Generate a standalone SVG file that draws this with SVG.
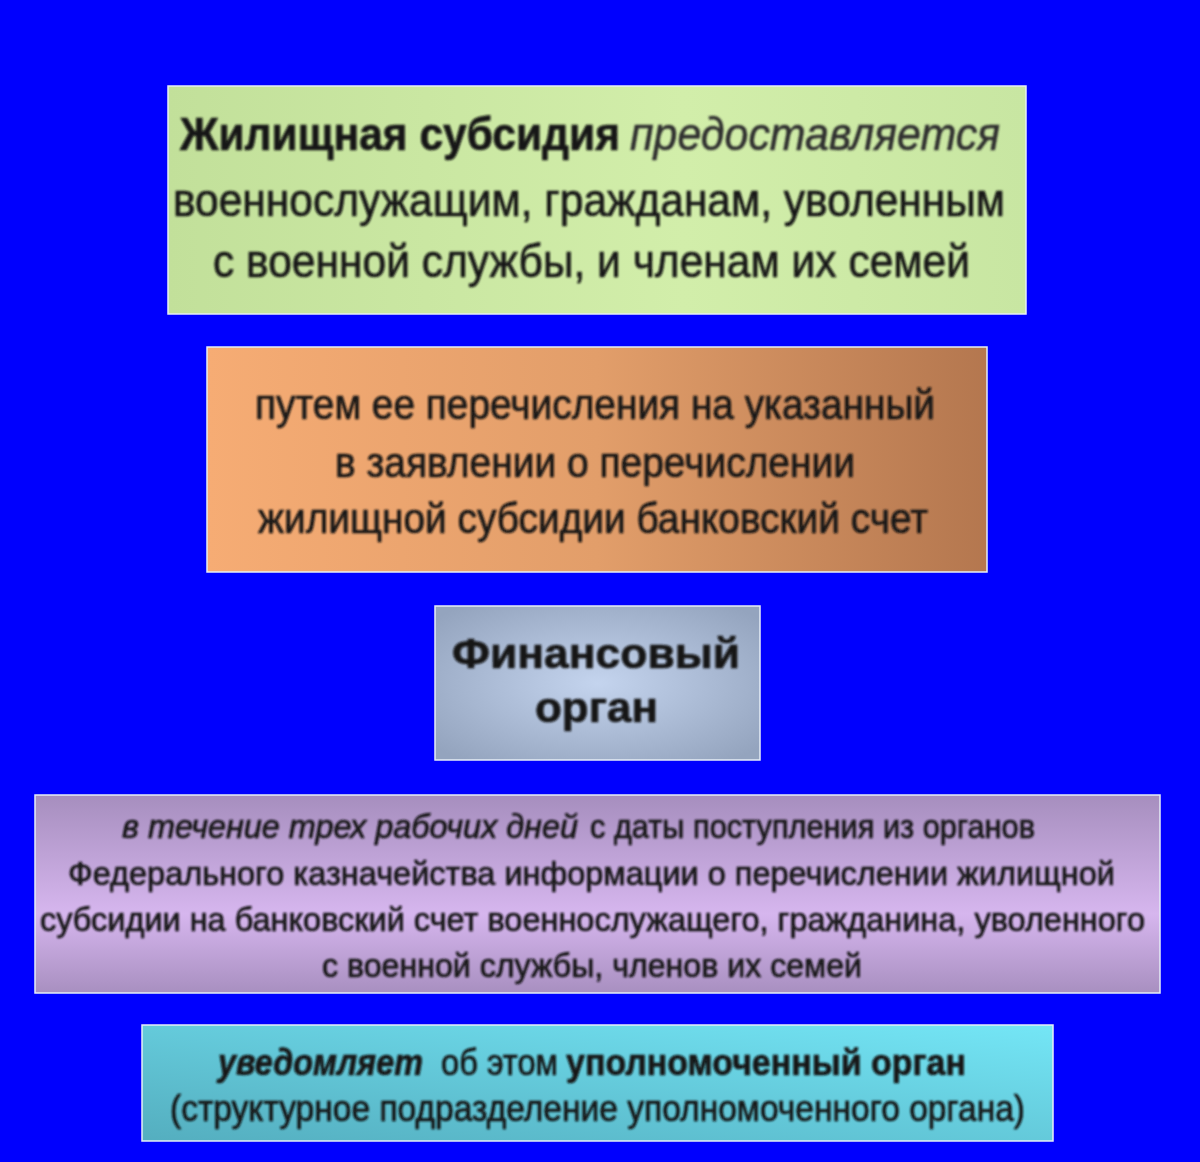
<svg xmlns="http://www.w3.org/2000/svg" width="1200" height="1162" viewBox="0 0 1200 1162">
<defs>
<linearGradient id="gGreen" x1="0" y1="0" x2="1" y2="0">
<stop offset="0" stop-color="#c2e09a"/>
<stop offset="0.6" stop-color="#d2eeaa"/>
<stop offset="1" stop-color="#c8e6a2"/>
</linearGradient>
<linearGradient id="gOrange" x1="0" y1="0" x2="1" y2="0">
<stop offset="0" stop-color="#f6ac74"/>
<stop offset="0.5" stop-color="#e29e6a"/>
<stop offset="1" stop-color="#b4774f"/>
</linearGradient>
<radialGradient id="gBlue" cx="0.5" cy="0.5" r="0.65">
<stop offset="0" stop-color="#c4d4ee"/>
<stop offset="1" stop-color="#94a4be"/>
</radialGradient>
<linearGradient id="gPurple" x1="0" y1="0" x2="0" y2="1">
<stop offset="0" stop-color="#a68ebe"/>
<stop offset="0.6" stop-color="#d6b6ee"/>
<stop offset="1" stop-color="#a88fc0"/>
</linearGradient>
<linearGradient id="gCyan" x1="0" y1="1" x2="1" y2="0">
<stop offset="0" stop-color="#54aebf"/>
<stop offset="1" stop-color="#74e6f6"/>
</linearGradient>
<filter id="soft" x="-5%" y="-20%" width="110%" height="140%">
<feGaussianBlur stdDeviation="0.8"/>
</filter>
</defs>
<style>
.box{stroke:#e6eef6;stroke-width:1.5}
text{font-family:"Liberation Sans","Arial",sans-serif;fill:#141414;stroke:#141414;stroke-width:0.6}
.b{font-weight:bold}
.i{font-style:italic}
.t{filter:url(#soft)}
</style>
<rect x="0" y="0" width="1200" height="1162" fill="#0000fe"/>

<g id="node-subsidy">
<rect class="box" x="168" y="86" width="858" height="228" fill="url(#gGreen)"/>
<g class="t" font-size="46">
<text x="180" y="150" class="b" textLength="440" lengthAdjust="spacingAndGlyphs">Жилищная субсидия</text>
<text x="630" y="150" class="i" style="fill:#2e2e2e;stroke:#2e2e2e" textLength="370" lengthAdjust="spacingAndGlyphs">предоставляется</text>
<text x="173" y="216" textLength="832" lengthAdjust="spacingAndGlyphs">военнослужащим, гражданам, уволенным</text>
<text x="213" y="277" textLength="757" lengthAdjust="spacingAndGlyphs">с военной службы, и членам их семей</text>
</g>
</g>

<g id="node-transfer">
<rect class="box" x="207" y="347" width="780" height="225" fill="url(#gOrange)"/>
<g class="t" font-size="43">
<text x="255" y="419" textLength="680" lengthAdjust="spacingAndGlyphs">путем ее перечисления на указанный</text>
<text x="335" y="477" textLength="520" lengthAdjust="spacingAndGlyphs">в заявлении о перечислении</text>
<text x="258" y="533" textLength="670" lengthAdjust="spacingAndGlyphs">жилищной субсидии банковский счет</text>
</g>
</g>

<g id="node-finance">
<rect class="box" x="435" y="606" width="325" height="154" fill="url(#gBlue)"/>
<g class="t" font-size="43">
<text x="452" y="668" class="b" textLength="288" lengthAdjust="spacingAndGlyphs">Финансовый</text>
<text x="535" y="722" class="b" textLength="123" lengthAdjust="spacingAndGlyphs">орган</text>
</g>
</g>

<g id="node-term">
<rect class="box" x="35" y="795" width="1125" height="198" fill="url(#gPurple)"/>
<g class="t" font-size="33">
<text x="122" y="838" class="i" textLength="456" lengthAdjust="spacingAndGlyphs">в течение трех рабочих дней</text>
<text x="590" y="838" textLength="445" lengthAdjust="spacingAndGlyphs">с даты поступления из органов</text>
<text x="68" y="885" textLength="1047" lengthAdjust="spacingAndGlyphs">Федерального казначейства информации о перечислении жилищной</text>
<text x="40" y="931" textLength="1105" lengthAdjust="spacingAndGlyphs">субсидии на банковский счет военнослужащего, гражданина, уволенного</text>
<text x="322" y="977" textLength="540" lengthAdjust="spacingAndGlyphs">с военной службы, членов их семей</text>
</g>
</g>

<g id="node-notify">
<rect class="box" x="142" y="1025" width="911" height="116" fill="url(#gCyan)"/>
<g class="t" font-size="37">
<text x="218" y="1075" class="b i" textLength="205" lengthAdjust="spacingAndGlyphs">уведомляет</text>
<text x="441" y="1075" textLength="117" lengthAdjust="spacingAndGlyphs">об этом</text>
<text x="566" y="1075" class="b" textLength="400" lengthAdjust="spacingAndGlyphs">уполномоченный орган</text>
<text x="170" y="1121" textLength="855" lengthAdjust="spacingAndGlyphs">(структурное подразделение уполномоченного органа)</text>
</g>
</g>

<g id="connectors"/>
</svg>
